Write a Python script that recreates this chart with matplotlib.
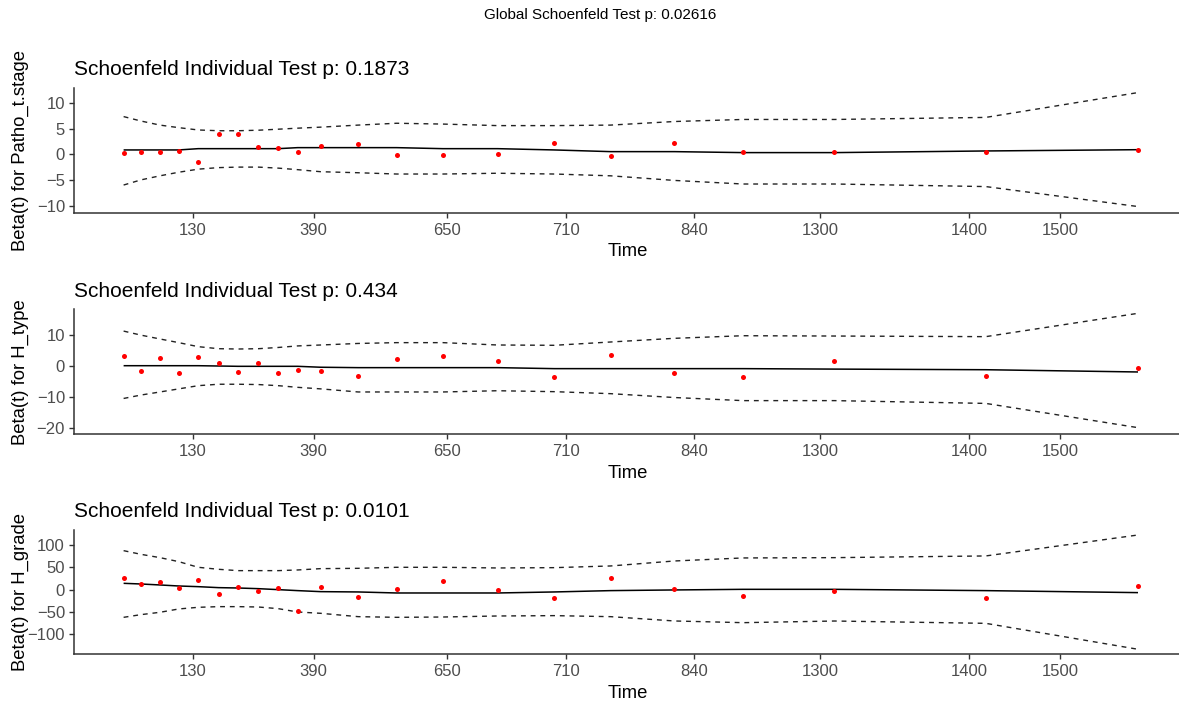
import matplotlib
matplotlib.use("Agg")
import matplotlib.pyplot as plt

plt.rcParams['font.family'] = ['Liberation Sans', 'DejaVu Sans']

# ---- data (transformed time scale, 0..1 across the panel) ----
ttime = [0.0449, 0.0605, 0.0778, 0.0948, 0.1124, 0.1308, 0.1484, 0.1668, 0.1848,
         0.2024, 0.2233, 0.2572, 0.2919, 0.3338, 0.3833, 0.4346, 0.4856, 0.5434,
         0.6054, 0.6882, 0.8251, 0.9629]
tick_pos = [0.1076, 0.2168, 0.3372, 0.4456, 0.5611, 0.6754, 0.8100, 0.8923]
tick_labels = ["130", "390", "650", "710", "840", "1300", "1400", "1500"]

# Patho_t.stage
resid1 = [0.33, 0.46, 0.46, 0.65, -1.43, 3.97, 3.97, 1.5, 1.3, 0.46, 1.69, 1.95,
          -0.2, -0.2, 0.07, 2.15, -0.39, 2.15, 0.46, 0.46, 0.46, 0.85]
fit1 = [0.85, 0.85, 0.85, 0.85, 1.1, 1.1, 1.1, 1.1, 1.1, 1.3, 1.3, 1.3, 1.3, 1.1,
        1.1, 0.85, 0.52, 0.52, 0.33, 0.33, 0.65, 0.9]
upper1 = [7.36, 6.5, 5.7, 5.2, 4.75, 4.6, 4.6, 4.7, 4.9, 5.1, 5.3, 5.7, 6.06, 5.9,
          5.6, 5.6, 5.7, 6.4, 6.8, 6.8, 7.2, 12.05]
lower1 = [-6.0, -5.0, -4.2, -3.5, -2.9, -2.6, -2.5, -2.5, -2.7, -3.0, -3.4, -3.6,
          -3.85, -3.85, -3.7, -3.85, -4.2, -5.1, -5.8, -5.8, -6.3, -10.2]

# H_type
resid2 = [3.24, -1.62, 2.59, -2.27, 2.91, 1.19, -1.94, 1.19, -2.27, -1.19, -1.62,
          -3.02, 2.27, 3.24, 1.83, -3.34, 3.56, -2.27, -3.34, 1.83, -3.02, -0.54]
fit2 = [0.2, 0.2, 0.2, 0.2, 0.2, 0.1, 0.0, 0.0, 0.0, 0.0, -0.3, -0.43, -0.43, -0.43,
        -0.43, -0.75, -0.75, -0.75, -0.75, -0.9, -1.1, -1.83]
upper2 = [11.4, 10.1, 8.85, 7.66, 6.36, 5.7, 5.6, 5.7, 6.1, 6.6, 6.9, 7.4, 7.66,
          7.66, 6.9, 6.8, 7.87, 9.06, 9.9, 9.8, 9.6, 17.15]
lower2 = [-10.4, -9.3, -8.3, -7.3, -6.26, -5.8, -5.8, -5.9, -6.26, -6.8, -7.3, -8.3,
          -8.3, -8.3, -7.9, -8.2, -8.85, -10.1, -11.1, -11.1, -12.0, -19.85]

# H_grade
resid3 = [27, 12.7, 17.2, 3, 22.5, -9, 6, -3.7, 3.7, -47.2, 6, -15.7, 1.5, 20.2,
          -1.5, -18, 27, 0.7, -14.2, -3.7, -18, 8.2]
fit3 = [14.2, 12.7, 10.5, 8.2, 6.7, 4.5, 3.7, 2.2, 0, -2.2, -4.5, -5.2, -7.5, -7.5,
        -7.5, -5.2, -2.2, -0.7, 0.7, 0.7, -2.2, -6.7]
upper3 = [87.6, 79.4, 71.9, 62.9, 50.2, 45.7, 42.7, 42.7, 42.7, 44.2, 47.2, 47.9,
          50.2, 50.2, 48.7, 49.4, 53.2, 64.4, 71.2, 71.9, 75.7, 122.8]
lower3 = [-62.2, -56.2, -50.9, -43.4, -39.7, -38.2, -38.2, -39, -42.7, -50.2, -53.2,
          -60.7, -62.2, -61.5, -59.2, -58.4, -60.7, -70.4, -74.2, -70.5, -75.7, -134]

variables = ["Patho_t.stage", "H_type", "H_grade"]
pvalues = ["0.1873", "0.434", "0.0101"]
global_p = "0.02616"
yticks = [[-10, -5, 0, 5, 10], [-20, -10, 0, 10], [-100, -50, 0, 50, 100]]
ylims = [(-11.4, 13.0), (-21.9, 18.45), (-144.6, 134.0)]

# ---- layout (pixel based) ----
W, H = 1179, 706
fig = plt.figure(figsize=(W / 100, H / 100), dpi=100)
panel_tops = [87.7, 309.3, 530.0]
panel_bots = [212.7, 434.0, 654.0]
left_px, right_px = 74, 1179

def fx(px):
    return px / W

def fy(py):
    return 1 - py / H

panels = [
    (resid1, fit1, upper1, lower1),
    (resid2, fit2, upper2, lower2),
    (resid3, fit3, upper3, lower3),
]

tick_col = '#4D4D4D'
for i, (res, fit, up, lo) in enumerate(panels):
    top, bot = panel_tops[i], panel_bots[i]
    ax = fig.add_axes([fx(left_px), fy(bot), fx(right_px - left_px), (bot - top) / H])
    ax.plot(ttime, fit, color='black', lw=1.1, solid_capstyle='butt')
    ax.plot(ttime, up, color='#222222', lw=1.0, linestyle=(0, (3.5, 3.5)))
    ax.plot(ttime, lo, color='#222222', lw=1.0, linestyle=(0, (3.5, 3.5)))
    ax.scatter(ttime, res, s=13, color='#FF0000', zorder=3, linewidths=0)
    ax.set_xlim(0, 1.0)
    ax.set_ylim(*ylims[i])
    ax.set_xticks(tick_pos)
    ax.set_xticklabels(tick_labels)
    ax.set_yticks(yticks[i])
    for s in ['top', 'right']:
        ax.spines[s].set_visible(False)
    for s in ['left', 'bottom']:
        ax.spines[s].set_color('#333333')
        ax.spines[s].set_linewidth(1.1)
    ax.tick_params(axis='both', length=3.5, width=1.0, color='#333333',
                   labelsize=12, labelcolor=tick_col)
    ax.tick_params(axis='x', pad=4)
    ax.tick_params(axis='y', pad=3)
    # title
    fig.text(fx(left_px), fy(top - 12.6), f"Schoenfeld Individual Test p: {pvalues[i]}",
             fontsize=15, ha='left', va='baseline', color='black')
    # x label
    fig.text(fx(628), fy(bot + 39), "Time", fontsize=13.3, ha='center', va='center',
             color='black')
    # y label
    fig.text(fx(20), fy((top + bot) / 2), f"Beta(t) for {variables[i]}", fontsize=13.3,
             rotation=90, ha='center', va='center', color='black')

fig.text(fx(600), fy(14.5), f"Global Schoenfeld Test p: {global_p}", fontsize=11,
         ha='center', va='center', color='black')

fig.savefig("out.png", dpi=100, facecolor='white')
